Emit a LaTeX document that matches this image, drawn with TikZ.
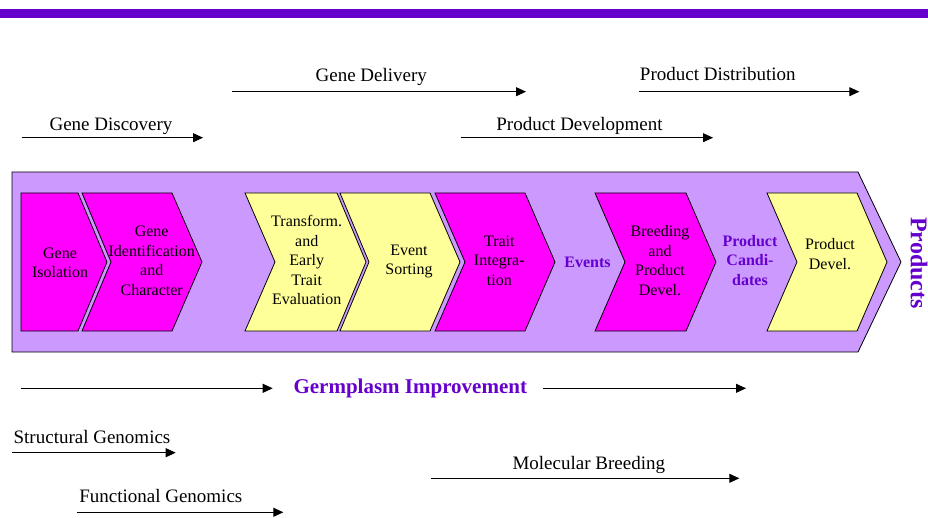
\documentclass[tikz,border=0pt]{standalone}
\usepackage{fontspec}
\setmainfont{Liberation Serif}
\usetikzlibrary{arrows.meta}
\definecolor{barpurple}{HTML}{6600CC}
\definecolor{lav}{HTML}{CC99FF}
\definecolor{mag}{HTML}{FF00FF}
\definecolor{lyellow}{HTML}{FFFF99}
\newcommand\mychevron[5]{\filldraw[chev,fill=#5] (#1,193) -- (#3,193) -- (#4,262) -- (#3,331) -- (#1,331) -- (#2,262) -- cycle;}
\begin{document}
\begin{tikzpicture}[x=1pt,y=-1pt,
  chev/.style={draw=black, line width=0.8pt, line join=miter},
  ctext/.style={align=center, font=\fontsize{16}{19.5}\selectfont, inner sep=0pt},
  ptext/.style={align=center, font=\fontsize{16}{19.5}\selectfont\bfseries, text=barpurple, inner sep=0pt},
  lbl/.style={anchor=base, font=\fontsize{19}{22}\selectfont, inner sep=0pt},
  arr/.style={-{Triangle[length=10pt,width=9pt]}, line width=0.9pt}]
\useasboundingbox (0,0) rectangle (928,518);
% top bar
\fill[barpurple] (0,9) rectangle (928,18);
% big chevron
\filldraw[chev, fill=lav] (12,172) -- (858,172) -- (901,262) -- (858,352) -- (12,352) -- cycle;
% inner chevrons
\filldraw[chev, fill=mag] (21,193) -- (78,193) -- (107,262) -- (78,331) -- (21,331) -- cycle;
\mychevron{82}{111}{172}{202}{mag}
\mychevron{245}{275}{337}{366}{lyellow}
\mychevron{340}{369}{430}{460}{lyellow}
\mychevron{435}{465}{525}{555}{mag}
\mychevron{595}{625}{686}{716}{mag}
\mychevron{767}{797}{857}{887}{lyellow}
% chevron texts
\node[ctext] (iso) at (60,263) {Gene\\Isolation};
\node[ctext] (ident) at (151.7,261) {Gene\\Identification\\and\\Character};
\node[ctext] (transf) at (306.7,260) {Transform.\\and\\Early\\Trait\\Evaluation};
\node[ctext] (sort) at (409,261.5) {Event\\Sorting};
\node[ctext] (integ) at (499.3,260.5) {Trait\\Integra-\\tion};
\node[ptext] (events) at (587.5,262) {Events};
\node[ctext] (breed) at (660,260.5) {Breeding\\and\\Product\\Devel.};
\node[ptext] (cand) at (750,260.5) {Product\\Candi-\\dates};
\node[ctext] (pdev) at (830,254) {Product\\Devel.};
\node[font=\fontsize{24}{28}\selectfont\bfseries, text=barpurple, rotate=-90, inner sep=0pt] (products) at (919,263) {Products};
% top labels and arrows
\node[lbl] (gdisc) at (111,131) {Gene Discovery};
\coordinate (gdisc1) at (21.7,137.7); \coordinate (gdisc2) at (203,137.7);
\draw[arr] (gdisc1) -- (gdisc2);
\node[lbl] (gdel) at (371.3,82) {Gene Delivery};
\coordinate (gdel1) at (232.3,91.7); \coordinate (gdel2) at (526,91.7);
\draw[arr] (gdel1) -- (gdel2);
\node[lbl] (pdevl) at (579.5,131) {Product Development};
\coordinate (pdev1) at (460.7,137.7); \coordinate (pdev2) at (713,137.7);
\draw[arr] (pdev1) -- (pdev2);
\node[lbl] (pdist) at (717.8,81) {Product Distribution};
\coordinate (pdist1) at (639.3,91.7); \coordinate (pdist2) at (859.3,91.7);
\draw[arr] (pdist1) -- (pdist2);
% germplasm
\node[anchor=base, inner sep=0pt, font=\fontsize{21}{24}\selectfont\bfseries, text=barpurple] (germ) at (410.3,393.3) {Germplasm Improvement};
\coordinate (germ1) at (20.7,388.3); \coordinate (germ2) at (272.7,388.3);
\coordinate (germ3) at (542.7,388.3); \coordinate (germ4) at (746,388.3);
\draw[arr] (germ1) -- (germ2);
\draw[arr] (germ3) -- (germ4);
% bottom labels
\node[lbl] (struct) at (92,443.3) {Structural Genomics};
\coordinate (struct1) at (12.3,452.7); \coordinate (struct2) at (175.7,452.7);
\draw[arr] (struct1) -- (struct2);
\node[lbl] (func) at (160.8,502.7) {Functional Genomics};
\coordinate (func1) at (77.3,512.3); \coordinate (func2) at (283.3,512.3);
\draw[arr] (func1) -- (func2);
\node[lbl] (molec) at (588.8,469.3) {Molecular Breeding};
\coordinate (molec1) at (431,478.3); \coordinate (molec2) at (739.3,478.3);
\draw[arr] (molec1) -- (molec2);
\end{tikzpicture}
\end{document}
